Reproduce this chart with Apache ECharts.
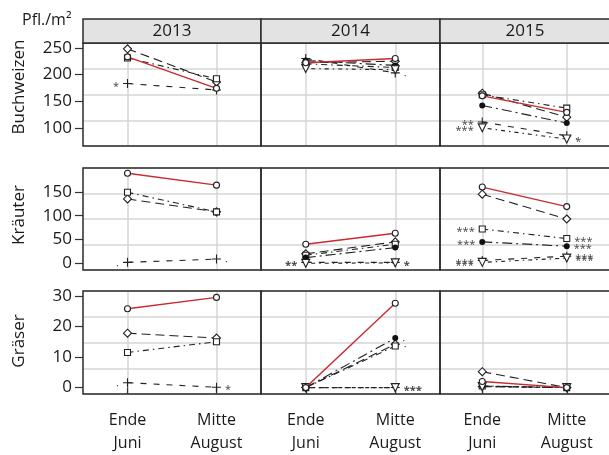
<!DOCTYPE html>
<html>
<head>
<meta charset="utf-8">
<script src="https://cdn.jsdelivr.net/npm/echarts@6/dist/echarts.min.js"></script>
<style>
  html, body { margin: 0; padding: 0; background: #fff; }
  #chart { width: 609px; height: 455px; }
</style>
</head>
<body>
<div id="chart"></div>
<script>
// Facets: rows = plant groups, columns = years, x = sampling date
const years = ['2013', '2014', '2015'];
const timeLabels = ['Ende\nJuni', 'Mitte\nAugust'];
const rowNames = ['Buchweizen', 'Kräuter', 'Gräser'];
const rowTicks = [[100, 150, 200, 250], [0, 50, 100, 150], [0, 10, 20, 30]];
const rowRange = [[66, 259], [-14, 200], [-2.1, 31.6]];

// Values per line: [2013 Ende, 2013 Mitte, 2014 Ende, 2014 Mitte, 2015 Ende, 2015 Mitte]
const buchKreis   = [233, 174, 222, 230, 160, 129];
const buchRaute   = [248, 186, 222, 225, 165, 120];
const buchQuadrat = [231, 192, 220, 213, 162, 137];
const buchKreuz   = [183, 171, 230, 203, 111, 85];
const buchPunkt   = [null, null, 226, 217, 142, 109];
const buchDreieck = [null, null, 211, 209, 100, 79];

const kraeKreis   = [189, 164, 40, 63, 160, 119];
const kraeRaute   = [135, 108, 20, 45, 145, 93];
const kraeQuadrat = [149, 108, 17, 40, 72, 52];
const kraeKreuz   = [2, 9, 2, 2, 6, 15];
const kraePunkt   = [null, null, 12, 33, 45, 36];
const kraeDreieck = [null, null, 0, 1, 2, 11];

const grasKreis   = [25.8, 29.5, 0, 27.6, 2, 0];
const grasRaute   = [17.8, 16.2, 0, 14.2, 5.2, 0];
const grasQuadrat = [11.5, 15, 0, 13.6, 0.5, 0];
const grasKreuz   = [1.6, 0.1, 0, 0, 0.3, 0];
const grasPunkt   = [null, null, 0, 16.2, 0.5, 0];
const grasDreieck = [null, null, 0, 0, 0.3, 0];

// Significance marks next to points (same order as the values)
const buchKreuzSig   = ['*', '', '', '·', '**', '·'];
const buchDreieckSig = ['', '', '', '', '***', '*'];
const kraeQuadratSig = ['', '', '', '', '***', '***'];
const kraeKreuzSig   = ['·', '·', '**', '*', '***', '***'];
const kraePunktSig   = ['', '', '', '', '***', '***'];
const kraeDreieckSig = ['', '', '**', '*', '***', '***'];
const grasRauteSig   = ['', '', '', '·', '', ''];
const grasKreuzSig   = ['·', '*', '', '***', '', ''];
const grasPunktSig   = ['', '', '', '·', '', ''];
const grasDreieckSig = ['', '', '', '***', '', ''];

const FONT = '"Open Sans", "Noto Sans", sans-serif';
const INK = '#1a1a1a';
const colLeft = [83, 261, 440];
const colWidth = [178, 179, 178];
const rowTop = [43, 168, 291];
const rowHeight = [103, 102, 103];

const plus = 'path://M4.4,0H5.6V4.4H10V5.6H5.6V10H4.4V5.6H0V4.4H4.4Z';

// Line/marker styles, one entry per treatment
const styles = [
  { symbol: 'circle', size: 6, fill: '#fff', line: '#c62a32', dash: 'solid', width: 1.4, z: 5 },
  { symbol: 'diamond', size: 8, fill: '#fff', line: '#222', dash: [9, 5], width: 1.1, z: 3 },
  { symbol: 'rect', size: 6, fill: '#fff', line: '#222', dash: [6, 4, 1.5, 4], width: 1.1, z: 3 },
  { symbol: plus, size: 9, fill: '#222', line: '#222', dash: [6, 7], width: 1.1, z: 3, solid: true },
  { symbol: 'circle', size: 6, fill: '#111', line: '#222', dash: [10, 4, 2, 4], width: 1.1, z: 3, solid: true },
  { symbol: 'triangle', size: 8, fill: '#fff', line: '#222', dash: [1.5, 4, 4, 4], width: 1.1, z: 3, rotate: 180 }
];

const rowData = [
  [buchKreis, buchRaute, buchQuadrat, buchKreuz, buchPunkt, buchDreieck],
  [kraeKreis, kraeRaute, kraeQuadrat, kraeKreuz, kraePunkt, kraeDreieck],
  [grasKreis, grasRaute, grasQuadrat, grasKreuz, grasPunkt, grasDreieck]
];
const rowSig = [
  [null, null, null, buchKreuzSig, null, buchDreieckSig],
  [null, null, kraeQuadratSig, kraeKreuzSig, kraePunktSig, kraeDreieckSig],
  [null, grasRauteSig, null, grasKreuzSig, grasPunktSig, grasDreieckSig]
];

const grid = [], xAxis = [], yAxis = [], series = [], graphic = [];

for (let r = 0; r < 3; r++) {
  for (let c = 0; c < 3; c++) {
    const gi = grid.length;
    grid.push({ left: colLeft[c], top: rowTop[r], width: colWidth[c], height: rowHeight[r], show: false });

    xAxis.push({
      gridIndex: gi, type: 'value', min: 0.5, max: 2.5, interval: 0.5,
      axisLine: { show: false },
      axisTick: { show: r === 2, customValues: [1, 2], length: 6, lineStyle: { color: '#333', width: 1.2 } },
      axisLabel: {
        show: r === 2, customValues: [1, 2], formatter: v => timeLabels[Math.round(v) - 1],
        fontFamily: FONT, fontSize: 16, color: INK, lineHeight: 23, margin: 15
      },
      splitLine: { show: true, lineStyle: { color: '#d6d6d6', width: 1.5 } }
    });

    // data axis
    yAxis.push({
      gridIndex: gi, type: 'value', min: rowRange[r][0], max: rowRange[r][1],
      axisLine: { show: false },
      axisTick: { show: c === 0, customValues: rowTicks[r], length: 8, lineStyle: { color: '#333', width: 1.2 } },
      axisLabel: { show: c === 0, customValues: rowTicks[r], fontFamily: FONT, fontSize: 17, color: INK, margin: 11 },
      splitLine: { show: false }
    });
    // background grid: quarters of the panel height
    yAxis.push({
      gridIndex: gi, type: 'value', min: 0, max: 4, interval: 1, position: 'left',
      axisLine: { show: false }, axisTick: { show: false }, axisLabel: { show: false },
      splitLine: { show: true, lineStyle: { color: '#d6d6d6', width: 1.5 } }
    });

    rowData[r].forEach((vals, t) => {
      const v0 = vals[c * 2], v1 = vals[c * 2 + 1];
      if (v0 == null || v1 == null) return;
      const st = styles[t];
      const sig = rowSig[r][t];
      const pts = [[1, v0], [2, v1]].map((p, k) => {
        const s = sig ? sig[c * 2 + k] : '';
        const item = { value: p };
        if (s) {
          item.label = {
            show: true, formatter: s, position: k === 0 ? 'left' : 'right', distance: 4,
            fontFamily: FONT, fontSize: 11, color: '#444', offset: [0, 3]
          };
        }
        return item;
      });
      series.push({
        type: 'line', xAxisIndex: gi, yAxisIndex: gi * 2, data: pts,
        symbol: st.symbol, symbolSize: st.size, symbolRotate: st.rotate || 0,
        showAllSymbol: true, animation: false, z: st.z,
        lineStyle: { color: st.line, width: st.width, type: st.dash },
        itemStyle: { color: st.fill, borderColor: '#222', borderWidth: st.solid ? 0 : 1.1 },
        label: { show: false },
        emphasis: { disabled: true }
      });
    });

    // panel frame
    graphic.push({
      type: 'rect', z: 100,
      shape: { x: colLeft[c], y: rowTop[r], width: colWidth[c], height: rowHeight[r] },
      style: { fill: 'none', stroke: '#2b2b2b', lineWidth: 1.5 }
    });
  }
}

// year strips
years.forEach((y, c) => {
  graphic.push({
    type: 'rect', z: 100,
    shape: { x: colLeft[c], y: 19, width: colWidth[c], height: 24 },
    style: { fill: '#e3e3e3', stroke: '#2b2b2b', lineWidth: 1.5 }
  });
  graphic.push({
    type: 'text', z: 101, x: colLeft[c] + colWidth[c] / 2 + (c === 2 ? -4 : 0), y: 31,
    style: { text: y, fontFamily: FONT, fontSize: 17, fill: INK, align: 'center', verticalAlign: 'middle' }
  });
});

// row titles
const rowTitleY = [87, 215, 341];
rowNames.forEach((n, r) => {
  graphic.push({
    type: 'text', z: 101, x: 19, y: rowTitleY[r], rotation: Math.PI / 2,
    style: { text: n, fontFamily: FONT, fontSize: 17, fill: INK, align: 'center', verticalAlign: 'middle' }
  });
});

graphic.push({
  type: 'text', z: 101, x: 22, y: 20,
  style: { text: 'Pfl./m²', fontFamily: FONT, fontSize: 16, fill: INK, align: 'left', verticalAlign: 'middle' }
});

const chart = echarts.init(document.getElementById('chart'), null, { renderer: 'canvas' });
chart.setOption({ animation: false, backgroundColor: '#fff', grid, xAxis, yAxis, series, graphic });
</script>
</body>
</html>
